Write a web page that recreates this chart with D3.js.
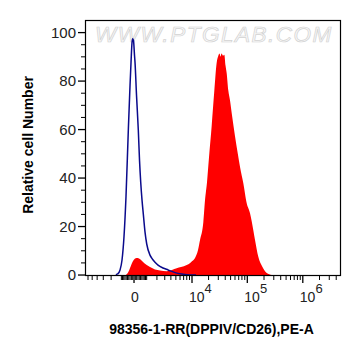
<!DOCTYPE html>
<html>
<head>
<meta charset="utf-8">
<script src="https://cdn.jsdelivr.net/npm/d3@7"></script>
<style>
  body { margin: 0; background: #fff; }
  svg { display: block; font-family: "Liberation Sans", Arial, sans-serif; }
</style>
</head>
<body>
<svg width="361" height="356"></svg>
<script>
// isotype control (blue outline), x = fluorescence, y = % of max
const blueX = [-1488, -1391, -1297, -1116, -943, -776, -615, -434, -303, -227, -151, -98, -38, 38, 75,
               189, 326, 419, 512, 615, 719, 859, 1003, 1297, 1459, 1791, 2125, 2756, 3516, 4818, 6538, 9195, 11839];
const blueY = [0, 0.4, 0.6, 2.1, 6.2, 16.0, 32.5, 59.7, 78.2, 87.7, 95.9, 97.5, 96.7, 90.5, 87.7,
               74.1, 59.7, 47.3, 38.3, 30.9, 25.1, 17.7, 12.8, 8.2, 7.0, 5.3, 4.1, 2.9, 2.1, 1.0, 0.4, 0, 0];

// stained sample (red fill)
const redX = [-615, -434, -303, -75, 189, 380, 615, 1003, 1297, 1791, 2364, 3304, 4194, 5186, 6268, 7988,
              9588, 11350, 12875, 13999, 16071, 17249, 18745, 20380, 22797, 25433, 28071, 30033, 31560,
              32888, 34287, 36487, 38505, 40469, 42541, 45468, 48795, 52376, 60049, 67193, 73920, 84773,
              97608, 111952, 128333, 137695, 157912, 186527, 223978, 275609];
const redY = [0, 1.2, 2.9, 5.8, 7.0, 6.8, 5.8, 4.1, 3.3, 2.3, 1.9, 1.6, 2.1, 2.8, 3.3, 4.1,
              5.3, 7.0, 10.3, 14.4, 21.8, 30.9, 38.3, 48.6, 61.7, 76.1, 87.7, 90.5, 91.4,
              90.1, 91.4, 90.5, 90.9, 86.4, 83.1, 76.1, 72.0, 66.7, 57.2, 50.2, 44.6, 37.9,
              29.6, 25.5, 18.5, 14.4, 7.5, 3.4, 0.8, 0];

const yTicks = [0, 20, 40, 60, 80, 100];
const xMajor = [0, 1e4, 1e5, 1e6];
const xMajorExp = [null, 4, 5, 6];

const X_MIN = -6830, X_MAX = 4.88e6, C = 1818; // biexponential-ish display

const svg = d3.select("svg");
const L = 85, R = 341, T = 20, B = 276;

const xLin = d3.scaleLinear()
    .domain([Math.asinh(X_MIN / C), Math.asinh(X_MAX / C)])
    .range([L, R]);
const x = v => xLin(Math.asinh(v / C));
const y = d3.scaleLinear().domain([-0.4, 100]).range([B, 32.6]);

// watermark
svg.append("text")
    .attr("x", 95).attr("y", 41.5)
    .attr("font-size", 22.5)
    .attr("font-style", "italic")
    .attr("letter-spacing", 1.5)
    .attr("fill", "#f8f8f8")
    .attr("stroke", "#d2d2d2")
    .attr("stroke-width", 0.7)
    .text("WWW.PTGLAB.COM");

const red = d3.range(redX.length).map(i => [redX[i], redY[i]]);
const blue = d3.range(blueX.length).map(i => [blueX[i], blueY[i]]);

svg.append("path")
    .datum(red)
    .attr("fill", "#ff0000")
    .attr("d", d3.area().x(d => x(d[0])).y0(B).y1(d => y(d[1])).curve(d3.curveMonotoneX));

svg.append("path")
    .datum(blue)
    .attr("fill", "none")
    .attr("stroke", "#0a0a8c")
    .attr("stroke-width", 1.5)
    .attr("d", d3.line().x(d => x(d[0])).y(d => y(d[1])).curve(d3.curveMonotoneX));

// frame
svg.append("rect")
    .attr("x", L + 0.5).attr("y", T + 0.5)
    .attr("width", R - L - 1).attr("height", B - T - 1)
    .attr("fill", "none").attr("stroke", "#000").attr("stroke-width", 1.2);

// y axis ticks
const yMinor = d3.range(0, 101, 5).filter(v => v % 20 != 0);
const yAxis = svg.append("g");
yAxis.selectAll(".maj").data(yTicks).join("line")
    .attr("x1", L - 7).attr("x2", L)
    .attr("y1", d => y(d)).attr("y2", d => y(d))
    .attr("stroke", "#000").attr("stroke-width", 1.3);
yAxis.selectAll(".min").data(yMinor).join("line")
    .attr("x1", L - 4).attr("x2", L)
    .attr("y1", d => y(d)).attr("y2", d => y(d))
    .attr("stroke", "#000").attr("stroke-width", 1);
yAxis.selectAll("text").data(yTicks).join("text")
    .attr("x", L - 9).attr("y", d => y(d) + 5)
    .attr("text-anchor", "end")
    .attr("font-size", 15)
    .attr("fill", "#222")
    .text(d => d);

// x axis ticks
let xMinor = [];
for (let k = 1; k <= 6; k++) xMinor.push(-1000 * k);
for (let k = 1; k <= 9; k++) { xMinor.push(-100 * k); xMinor.push(100 * k); }
[1e3, 1e4, 1e5, 1e6].forEach(p => {
    for (let k = 1; k <= 9; k++) {
        const v = p * k;
        if (v < X_MAX && xMajor.indexOf(v) < 0) xMinor.push(v);
    }
});
const xAxis = svg.append("g");
xAxis.selectAll(".min").data(xMinor).join("line")
    .attr("x1", d => x(d)).attr("x2", d => x(d))
    .attr("y1", B).attr("y2", B + 4)
    .attr("stroke", "#000").attr("stroke-width", 1);
xAxis.selectAll(".maj").data(xMajor).join("line")
    .attr("x1", d => x(d)).attr("x2", d => x(d))
    .attr("y1", B).attr("y2", B + 7)
    .attr("stroke", "#000").attr("stroke-width", 1.3);

xMajor.forEach((v, i) => {
    const t = svg.append("text")
        .attr("font-size", 14)
        .attr("fill", "#222")
        .attr("y", 302);
    if (xMajorExp[i] == null) {
        t.attr("x", x(v) + 1).attr("text-anchor", "middle").text("0");
    } else {
        t.attr("x", x(v) - 3).attr("text-anchor", "start");
        t.append("tspan").text("10");
        t.append("tspan").attr("dy", -9).attr("font-size", 13).text(xMajorExp[i]);
    }
});

// titles
svg.append("text")
    .attr("transform", "translate(33,145) rotate(-90)")
    .attr("text-anchor", "middle")
    .attr("font-size", 14)
    .attr("font-weight", "bold")
    .text("Relative cell Number");

svg.append("text")
    .attr("x", 211.5).attr("y", 334)
    .attr("text-anchor", "middle")
    .attr("font-size", 14)
    .attr("font-weight", "bold")
    .text("98356-1-RR(DPPIV/CD26),PE-A");
</script>
</body>
</html>
